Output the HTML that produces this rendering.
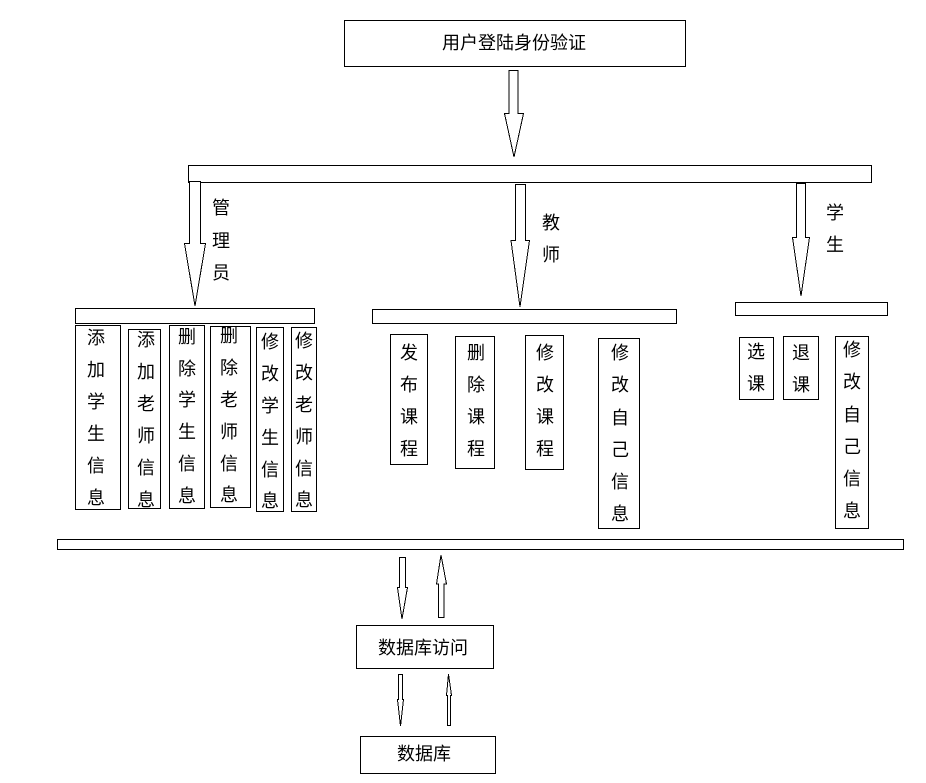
<!DOCTYPE html>
<html lang="zh">
<head>
<meta charset="utf-8">
<title>系统结构图</title>
<style>
html,body{margin:0;padding:0;background:#fff;width:926px;height:783px;overflow:hidden}
svg{display:block}
rect,polygon{fill:#fff;stroke:#000;stroke-width:1;shape-rendering:crispEdges}
text{font-family:"Liberation Sans","Noto Sans CJK SC","WenQuanYi Zen Hei",sans-serif;font-size:18px;fill:#000}
.m{text-anchor:middle}
</style>
</head>
<body>
<svg width="926" height="783" viewBox="0 0 926 783" xmlns="http://www.w3.org/2000/svg">
<!-- Top -->
<rect x="344.5" y="20.5" width="341" height="46"/>
<text class="m" x="514" y="49">用户登陆身份验证</text>
<polygon points="509,70.5 518,70.5 518,113.5 523.5,113.5 514,157 504.5,113.5 509,113.5"/>
<rect x="188.5" y="165.5" width="683" height="17"/>

<!-- Role arrows -->
<polygon points="189.5,181.5 200.5,181.5 200.5,243.5 205.5,243.5 195,306 184.5,243.5 189.5,243.5"/>
<polygon points="515.5,184.5 525.5,184.5 525.5,240.5 529.5,240.5 520,307 511,240.5 515.5,240.5"/>
<polygon points="796.5,183.5 805.5,183.5 805.5,237.5 809.5,237.5 801,296 792.5,237.5 796.5,237.5"/>

<text x="212 212 212" y="214 247 279">管理员</text>
<text x="542 542" y="229 261">教师</text>
<text x="826 826" y="219 251">学生</text>

<!-- Admin -->
<rect x="75.5" y="308.5" width="239" height="15"/>
<rect x="75.5" y="325.5" width="45" height="184"/>
<rect x="128.5" y="329.5" width="32" height="179"/>
<rect x="169.5" y="325.5" width="35" height="183"/>
<rect x="210.5" y="326.5" width="40" height="181"/>
<rect x="256.5" y="327.5" width="27" height="184"/>
<rect x="291.5" y="327.5" width="25" height="184"/>
<text x="87 87 87 87 87 87" y="344 376 408 440 472 504">添加学生信息</text>
<text x="137 137 137 137 137 137" y="346 378 410 442 474 506">添加老师信息</text>
<text x="178 178 178 178 178 178" y="343 375 406 438 470 502">删除学生信息</text>
<text x="220 220 220 220 220 220" y="342 374 406 438 470 501">删除老师信息</text>
<text x="261 261 261 261 261 261" y="348 380 412 444 476 507">修改学生信息</text>
<text x="295 295 295 295 295 295" y="347 379 411 443 475 506">修改老师信息</text>

<!-- Teacher -->
<rect x="372.5" y="309.5" width="304" height="14"/>
<rect x="390.5" y="334.5" width="37" height="130"/>
<rect x="455.5" y="336.5" width="39" height="132"/>
<rect x="525.5" y="335.5" width="38" height="134"/>
<rect x="598.5" y="338.5" width="41" height="190"/>
<text x="400 400 400 400" y="359 391 423 455">发布课程</text>
<text x="467 467 467 467" y="359 391 423 455">删除课程</text>
<text x="536 536 536 536" y="359 391 423 455">修改课程</text>
<text x="611 611 611 611 611 611" y="359 391 424 456 488 520">修改自己信息</text>

<!-- Student -->
<rect x="735.5" y="302.5" width="152" height="13"/>
<rect x="739.5" y="337.5" width="34" height="62"/>
<rect x="783.5" y="336.5" width="35" height="63"/>
<rect x="835.5" y="336.5" width="33" height="192"/>
<text x="747 747" y="358 390">选课</text>
<text x="792 792" y="359 391">退课</text>
<text x="843 843 843 843 843 843" y="356 388 421 453 485 517">修改自己信息</text>

<!-- Bottom -->
<rect x="57.5" y="539.5" width="846" height="10"/>
<polygon points="399.5,557.5 405.5,557.5 405.5,587.5 407.5,587.5 402,619 397.5,587.5 399.5,587.5"/>
<polygon points="438.5,617.5 444,617.5 444,584 446.5,584 441,555 436.5,584 438.5,584"/>
<rect x="356.5" y="625.5" width="137" height="43"/>
<text class="m" x="423" y="654">数据库访问</text>
<polygon points="398.5,674.5 402.5,674.5 402.5,699.5 403.5,699.5 400.5,726 397.5,699.5 398.5,699.5"/>
<polygon points="447.5,725.5 450.5,725.5 450.5,695.5 451.5,695.5 448.5,674 446.5,695.5 447.5,695.5"/>
<rect x="360.5" y="736.5" width="135" height="37"/>
<text class="m" x="424" y="760">数据库</text>
</svg>
</body>
</html>
